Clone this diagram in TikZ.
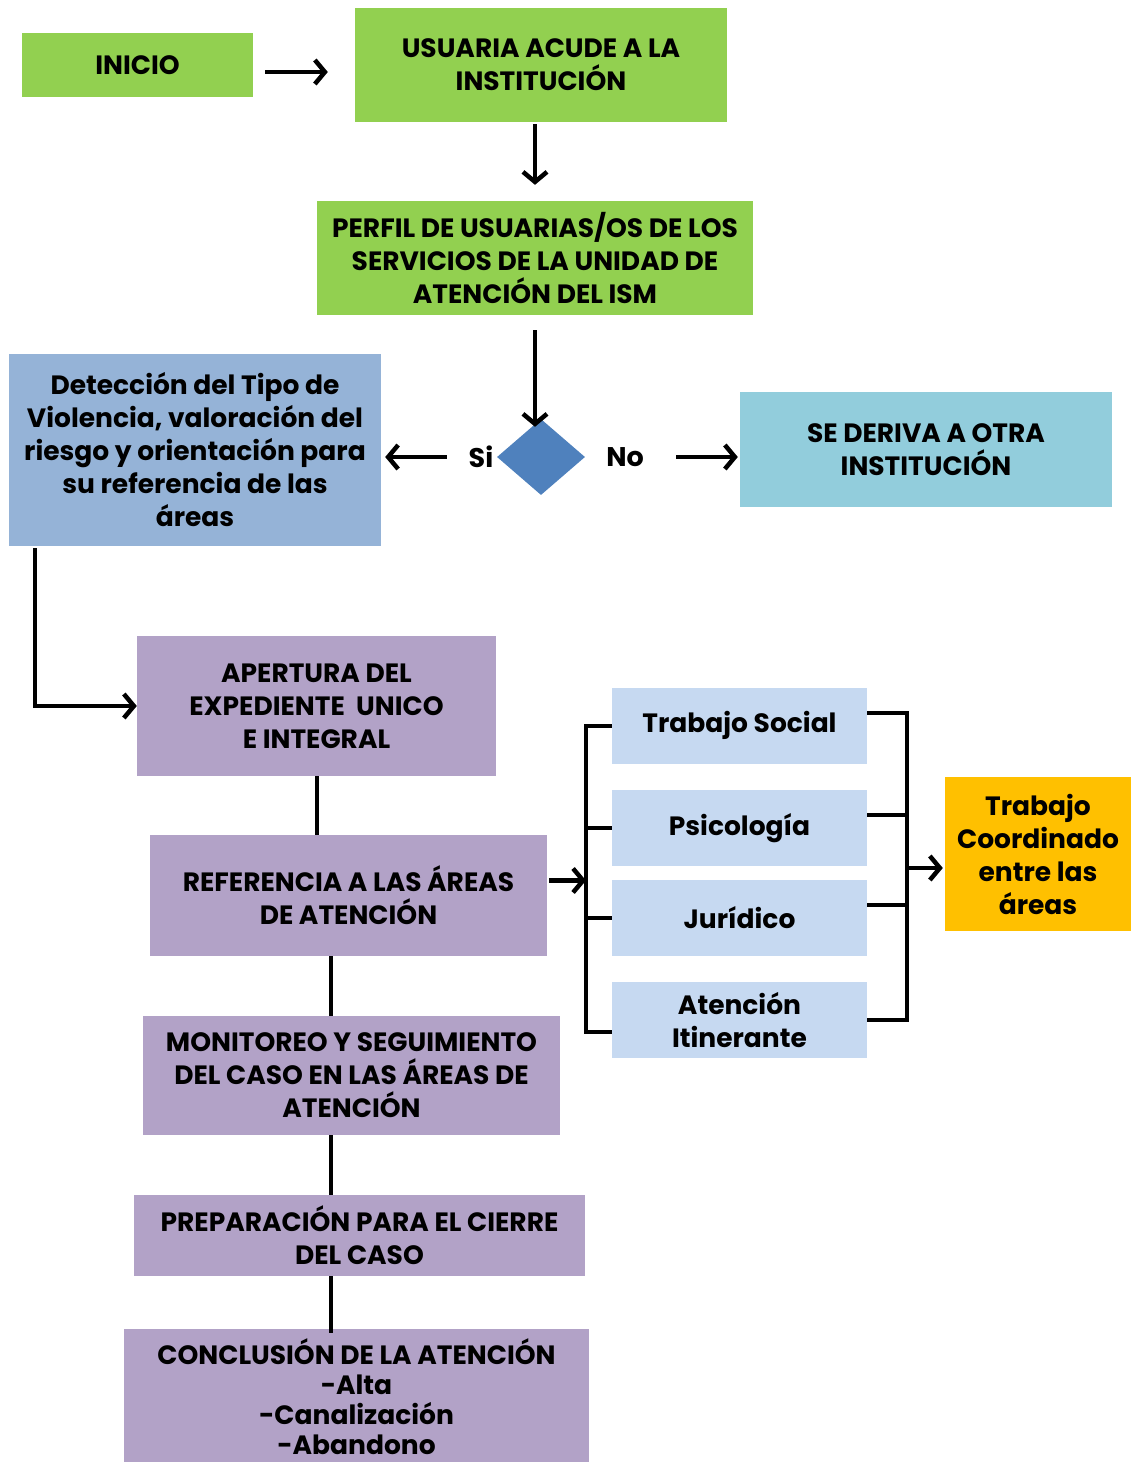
\documentclass[tikz,border=0pt]{standalone}
\usepackage{fontspec}
\setmainfont{Poppins}
\usetikzlibrary{arrows.meta,shapes.geometric,positioning}
\tikzset{
  box/.style={rectangle, inner sep=0pt, align=center, text=black,
    font=\fontsize{26.5}{33}\selectfont\bfseries},
  greenbox/.style={box, fill={rgb,255:red,146;green,208;blue,80}},
  detbox/.style={box, fill={rgb,255:red,149;green,179;blue,215}},
  derbox/.style={box, fill={rgb,255:red,146;green,205;blue,220}},
  lilacbox/.style={box, fill={rgb,255:red,178;green,162;blue,199}},
  areabox/.style={box, fill={rgb,255:red,198;green,217;blue,241},
    minimum width=255pt, minimum height=76pt},
  coordbox/.style={box, fill={rgb,255:red,255;green,192;blue,0}},
  choice/.style={diamond, inner sep=0pt, fill={rgb,255:red,79;green,129;blue,189},
    minimum width=88pt, minimum height=76pt},
  lbl/.style={font=\fontsize{27}{30}\selectfont\bfseries},
  ar/.style={-{Straight Barb[length=10pt,width=24pt]}, line width=4.5pt},
  ln/.style={line width=4pt},
}

\begin{document}
\begin{tikzpicture}[x=1pt, y=-1pt]
\useasboundingbox (0,0) rectangle (1131,1462);

% ===================== TOP : ENTRY =====================
\node[greenbox, minimum width=231pt, minimum height=64pt] (inicio) at (137.5,65) {INICIO};
\node[greenbox, minimum width=372pt, minimum height=114pt] (acude) at (541,65)
  {USUARIA ACUDE A LA\\INSTITUCIÓN};
\node[greenbox, minimum width=436pt, minimum height=114pt] (perfil) at (535,258)
  {PERFIL DE USUARIAS/OS DE LOS\\SERVICIOS DE LA UNIDAD DE\\ATENCIÓN DEL ISM};

\draw[ar, shorten <=12pt, shorten >=27pt] ([yshift=-7pt]inicio.east) -- ([yshift=-7pt]inicio.east -| acude.west);
\draw[ar, shorten <=2pt, shorten >=16pt] (perfil.north |- acude.south) -- (perfil.north);

% ===================== DECISION =====================
\node[choice] (dec) at (541,457) {};
\node[lbl] (si) at (481,457) {Si};
\node[lbl] (no) at (625,457) {No};
\node[detbox, minimum width=372pt, minimum height=192pt] (deteccion) at (195,450)
  {Detección del Tipo de\\Violencia, valoración del\\riesgo y orientación para\\su referencia de las\\áreas};
\node[derbox, minimum width=372pt, minimum height=115pt] (deriva) at (926,449.5)
  {SE DERIVA A OTRA\\INSTITUCIÓN};

\draw[ar, shorten <=15pt, shorten >=-8pt] (perfil.south) -- (perfil.south |- dec.north);
\draw[ar, shorten <=50pt, shorten >=4pt] (dec.west) -- (dec.west -| deteccion.east);
\draw[ar, shorten <=91pt, shorten >=2pt] (dec.east) -- (dec.east -| deriva.west);

% ===================== CASE PATH =====================
\node[lilacbox, minimum width=359pt, minimum height=140pt] (apertura) at (316.5,706)
  {APERTURA DEL\\EXPEDIENTE\ \ UNICO\\E INTEGRAL};
\node[lilacbox, minimum width=397pt, minimum height=121pt] (referencia) at (348.5,895.5)
  {REFERENCIA A LAS ÁREAS\\DE ATENCIÓN};
\node[lilacbox, minimum width=417pt, minimum height=119pt] (monitoreo) at (351.5,1075.5)
  {MONITOREO Y SEGUIMIENTO\\DEL CASO EN LAS ÁREAS DE\\ATENCIÓN};
\node[lilacbox, minimum width=451pt, minimum height=81pt] (prep) at (359.5,1235.5)
  {PREPARACIÓN PARA EL CIERRE\\DEL CASO};
\node[lilacbox, minimum width=465pt, minimum height=136pt,
  font=\fontsize{26.5}{30}\selectfont\bfseries] (concl) at (356.5,1397)
  {CONCLUSIÓN DE LA ATENCIÓN\\-Alta\\-Canalización\\-Abandono};

\coordinate (spine) at (331,0);
\draw[ar, shorten <=2pt] ([xshift=26pt]deteccion.south west) |- (apertura.west);
\draw[ln] (apertura.south) -- (apertura.south |- referencia.north);
\draw[ln] (referencia.south -| spine) -- (monitoreo.north -| spine);
\draw[ln] (monitoreo.south -| spine) -- (prep.north -| spine);
\draw[ln] (prep.south -| spine) -- ([yshift=-4pt]concl.north -| spine);

% ===================== AREAS =====================
\node[areabox] (ts) at (739.5,725.5) {Trabajo Social};
\node[areabox] (psic) at (739.5,828) {Psicología};
\node[areabox] (jur) at (739.5,918) {Jurídico};
\node[areabox] (aten) at (739.5,1020) {Atención\\Itinerante};
\node[coordbox, minimum width=186pt, minimum height=154pt] (coord) at (1038,854)
  {Trabajo\\Coordinado\\entre las\\áreas};

\coordinate (lspine) at (586,0);
\coordinate (rspine) at (907,0);
\draw[ar, shorten <=2pt] ([yshift=15pt]referencia.east) -- ([yshift=15pt]referencia.east -| lspine);
\draw[ln] (ts.west) -- (ts.west -| lspine) -- ([yshift=-12pt]aten.west -| lspine) -- ([yshift=-12pt]aten.west);
\draw[ln] (psic.west) -- (psic.west -| lspine);
\draw[ln] (jur.west) -- (jur.west -| lspine);
\draw[ln] ([yshift=13pt]ts.east) -- ([yshift=13pt]ts.east -| rspine) -- (aten.east -| rspine) -- (aten.east);
\draw[ln] ([yshift=13pt]psic.east) -- ([yshift=13pt]psic.east -| rspine);
\draw[ln] ([yshift=13pt]jur.east) -- ([yshift=13pt]jur.east -| rspine);
\draw[ar, shorten >=2pt] ([yshift=-14pt]coord.west -| rspine) -- ([yshift=-14pt]coord.west);

\end{tikzpicture}
\end{document}
